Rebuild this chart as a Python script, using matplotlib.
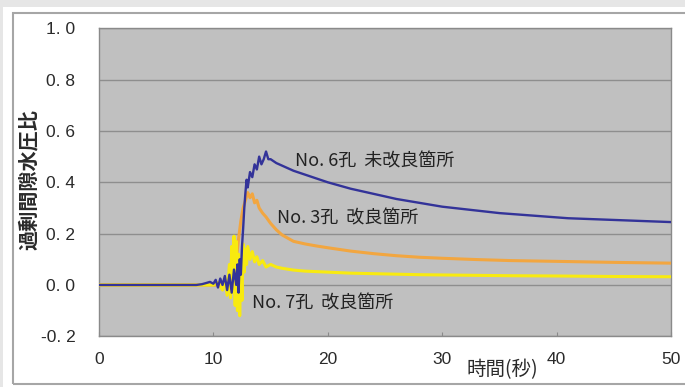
import matplotlib
matplotlib.use("Agg")
import matplotlib.pyplot as plt
from matplotlib.patches import Rectangle
from matplotlib.ticker import FuncFormatter

plt.rcParams['font.family'] = ['Noto Sans CJK JP', 'DejaVu Sans']

# ---- data ----
t6 = [0, 8.5, 9.0, 9.4, 9.7, 10.0, 10.2, 10.4, 10.6, 10.8, 11.0, 11.2, 11.4, 11.6, 11.8,
      12.0, 12.1, 12.2, 12.3, 12.4, 12.5, 12.6, 12.7, 12.8, 12.9, 13.0, 13.2, 13.4, 13.6,
      13.8, 14.0, 14.2, 14.4, 14.6, 14.8, 15.0, 15.5, 16, 17, 18, 19, 20, 22, 24, 26, 28,
      30, 32, 35, 38, 41, 44, 47, 50]
v6 = [0, 0, 0.003, 0.008, 0.012, 0.005, 0.02, -0.01, 0.025, 0.0, 0.035, -0.02, 0.04, -0.03,
      0.06, 0.0, 0.08, -0.03, 0.10, 0.04, 0.15, 0.22, 0.30, 0.36, 0.41, 0.38, 0.44, 0.42,
      0.47, 0.45, 0.50, 0.47, 0.49, 0.52, 0.49, 0.49, 0.475, 0.465, 0.445, 0.43, 0.415,
      0.40, 0.375, 0.355, 0.335, 0.32, 0.305, 0.295, 0.28, 0.27, 0.26, 0.255, 0.25, 0.245]

t3 = [0, 10.5, 11.0, 11.4, 11.8, 12.0, 12.2, 12.4, 12.6, 12.8, 13.0, 13.2, 13.4, 13.6, 13.8,
      14.0, 14.3, 14.6, 15.0, 15.5, 16, 17, 18, 19, 20, 22, 24, 26, 28, 30, 33, 36, 40, 45, 50]
v3 = [0, 0, 0.01, 0.02, 0.05, 0.10, 0.18, 0.25, 0.30, 0.33, 0.36, 0.34, 0.355, 0.32, 0.33,
      0.30, 0.28, 0.265, 0.24, 0.215, 0.195, 0.17, 0.16, 0.152, 0.145, 0.132, 0.122, 0.114,
      0.108, 0.104, 0.099, 0.095, 0.092, 0.088, 0.085]

t7 = [0, 10.0, 10.4, 10.8, 11.0, 11.2, 11.4, 11.5, 11.6, 11.7, 11.8, 11.9, 12.0, 12.1, 12.2,
      12.3, 12.4, 12.5, 12.6, 12.7, 12.8, 12.9, 13.0, 13.2, 13.4, 13.6, 13.8, 14.0, 14.3,
      14.6, 15.0, 15.5, 16, 17, 18, 20, 22, 25, 28, 32, 36, 40, 45, 50]
v7 = [0, 0, 0.01, -0.02, 0.03, -0.04, 0.08, -0.05, 0.15, -0.03, 0.19, -0.08, 0.17, -0.10,
      0.12, -0.12, 0.10, -0.06, 0.16, 0.05, 0.14, 0.08, 0.15, 0.10, 0.13, 0.09, 0.11, 0.08,
      0.095, 0.07, 0.08, 0.07, 0.065, 0.058, 0.054, 0.05, 0.046, 0.043, 0.04, 0.038, 0.036,
      0.035, 0.033, 0.032]

labels = ["No. 6孔  未改良箇所", "No. 3孔  改良箇所", "No. 7孔  改良箇所"]
ylabel = "過剰間隙水圧比"
xlabel = "時間(秒)"
xticks = [0, 10, 20, 30, 40, 50]
yticks = [-0.2, 0.0, 0.2, 0.4, 0.6, 0.8, 1.0]

W, H = 685, 387
fig = plt.figure(figsize=(W / 100, H / 100), dpi=100, facecolor='#e6e6e6')

# white panel and border
fig.patches.append(Rectangle((3 / W, 0), 1, 1 - 7 / H, transform=fig.transFigure,
                             facecolor='white', edgecolor='none', zorder=-2))
fig.patches.append(Rectangle((13 / W, 3 / H), 1, 1 - 16 / H, transform=fig.transFigure,
                             facecolor='none', edgecolor='#a6a6a6', lw=1.5, zorder=-1))

ax_l, ax_r, ax_t, ax_b = 99, 671, 28.3, 336.3
ax = fig.add_axes([ax_l / W, 1 - ax_b / H, (ax_r - ax_l) / W, (ax_b - ax_t) / H])
ax.set_facecolor('#c0c0c0')

ax.plot(t3, v3, color='#f2a640', lw=2.2, zorder=3)
ax.plot(t7, v7, color='#f8ea10', lw=2.2, zorder=4)
ax.plot(t6, v6, color='#333399', lw=1.7, zorder=5)

ax.set_xlim(0, 50)
ax.set_ylim(-0.2, 1.0)
ax.set_xticks(xticks)
ax.set_yticks(yticks)
ax.yaxis.set_major_formatter(FuncFormatter(lambda v, p: f"{v:.1f}".replace('.', '. ')))
ax.grid(axis='y', color='#8e8e8e', lw=1.0, zorder=1)
ax.set_axisbelow(True)
for s in ax.spines.values():
    s.set_color('#8a8a8a')
    s.set_linewidth(1.0)

ax.tick_params(axis='y', length=0, pad=17, labelsize=12.5, labelcolor='#2a2a2a')
ax.tick_params(axis='x', direction='in', length=3, color='#8a8a8a', pad=11,
               labelsize=12.5, labelcolor='#2a2a2a')
for lab in ax.get_xticklabels() + ax.get_yticklabels():
    lab.set_family(['Liberation Sans', 'DejaVu Sans'])

ax.set_ylabel(ylabel, fontsize=14.5, color='#2a2a2a', fontweight='bold', labelpad=0)
ax.yaxis.set_label_coords(-0.105, 0.51)
fig.text(502 / W, 1 - 370 / H, xlabel, fontsize=14, color='#2a2a2a',
         ha='center', va='center')

ax.text(17.1, 0.48, labels[0], fontsize=13, color='#222222', va='center', ha='left', zorder=6)
ax.text(15.6, 0.26, labels[1], fontsize=13, color='#222222', va='center', ha='left', zorder=6)
ax.text(13.4, -0.072, labels[2], fontsize=13, color='#222222', va='center', ha='left', zorder=6)

fig.savefig("out.png", dpi=100, facecolor=fig.get_facecolor())
